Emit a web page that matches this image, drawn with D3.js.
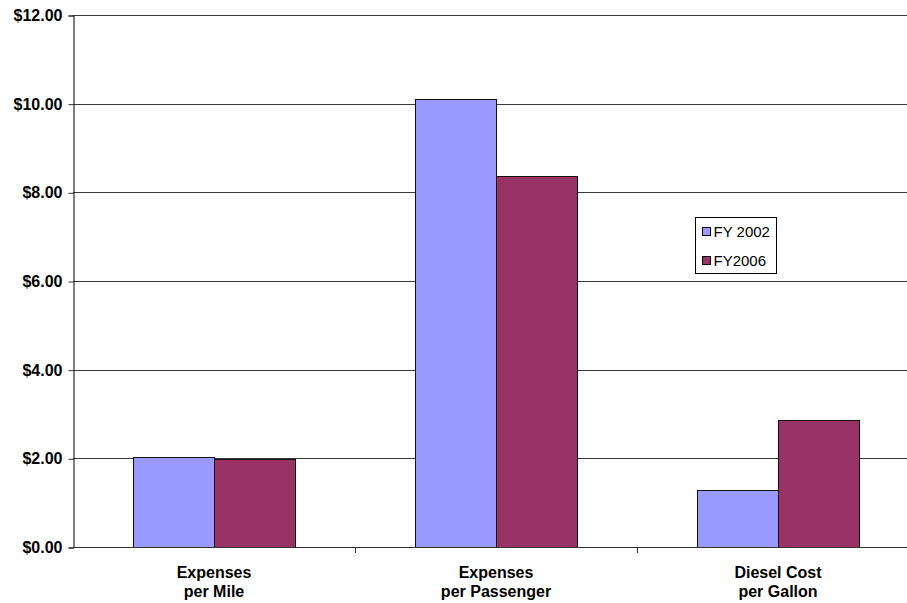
<!DOCTYPE html>
<html>
<head>
<meta charset="utf-8">
<script src="https://cdn.jsdelivr.net/npm/d3@7"></script>
<style>
  html, body { margin: 0; padding: 0; background: #fff; }
  svg { display: block; }
  text { font-family: "Liberation Sans", Arial, sans-serif; }
</style>
</head>
<body>
<svg id="chart" width="907" height="603"></svg>
<script>
// Cost comparison, FY 2002 vs FY2006
const categories = [["Expenses", "per Mile"], ["Expenses", "per Passenger"], ["Diesel Cost", "per Gallon"]];
const seriesNames = ["FY 2002", "FY2006"];
const fy2002 = [2.04, 10.10, 1.29];
const fy2006 = [1.98, 8.37, 2.86];
const yTicks = [0, 2, 4, 6, 8, 10, 12];
const colors = ["#9999FF", "#993366"];

const svg = d3.select("#chart");
const plot = { left: 73, right: 919, top: 15, bottom: 547 };

const x0 = d3.scaleBand()
  .domain(d3.range(categories.length))
  .range([plot.left, plot.right])
  .paddingInner(0).paddingOuter(0);

const barW = 81;
const x1 = d3.scaleBand()
  .domain(seriesNames)
  .range([x0.bandwidth() / 2 - barW, x0.bandwidth() / 2 + barW]);

const y = d3.scaleLinear().domain([0, 12]).range([plot.bottom, plot.top]);

// horizontal gridlines
svg.append("g")
  .selectAll("line")
  .data(yTicks)
  .join("line")
  .attr("x1", plot.left).attr("x2", plot.right)
  .attr("y1", d => Math.round(y(d)) + 0.5).attr("y2", d => Math.round(y(d)) + 0.5)
  .attr("stroke", "#3a3a3a").attr("stroke-width", 1);

// bars
const data = categories.map((c, i) => ({ i, values: [fy2002[i], fy2006[i]] }));
const groups = svg.append("g")
  .selectAll("g")
  .data(data)
  .join("g")
  .attr("transform", d => `translate(${x0(d.i)},0)`);

groups.selectAll("rect")
  .data(d => d.values.map((v, k) => ({ v, k })))
  .join("rect")
  .attr("x", d => x1(seriesNames[d.k]) + 0.5)
  .attr("width", barW)
  .attr("y", d => Math.round(y(d.v)) + 0.5)
  .attr("height", d => Math.round(y(0)) - Math.round(y(d.v)))
  .attr("fill", d => colors[d.k])
  .attr("stroke", "#111")
  .attr("stroke-width", 1);

// y axis
const yAxis = d3.axisLeft(y)
  .tickValues(yTicks)
  .tickSize(5)
  .tickPadding(6)
  .tickFormat(d => "$" + d3.format(".2f")(d));

const ya = svg.append("g")
  .attr("transform", `translate(${plot.left + 0.5},0.5)`)
  .call(yAxis);
ya.select(".domain").attr("stroke", "#000");
ya.selectAll(".tick line").attr("stroke", "#333");
ya.selectAll(".tick text")
  .attr("font-size", 16)
  .attr("font-weight", "bold")
  .attr("fill", "#000")
  .attr("font-family", "'Liberation Sans', Arial, sans-serif");

// x axis
const xAxisLine = svg.append("g");
xAxisLine.append("line")
  .attr("x1", plot.left).attr("x2", plot.right)
  .attr("y1", plot.bottom + 0.5).attr("y2", plot.bottom + 0.5)
  .attr("stroke", "#333");
xAxisLine.selectAll("line.tick")
  .data(d3.range(1, categories.length))
  .join("line")
  .attr("class", "tick")
  .attr("x1", d => x0(d) + 0.5).attr("x2", d => x0(d) + 0.5)
  .attr("y1", plot.bottom).attr("y2", plot.bottom + 6)
  .attr("stroke", "#333");

const labels = svg.append("g")
  .selectAll("text")
  .data(data)
  .join("text")
  .attr("x", d => x0(d.i) + x0.bandwidth() / 2)
  .attr("y", 578)
  .attr("text-anchor", "middle")
  .attr("font-size", 16)
  .attr("font-weight", "bold")
  .attr("fill", "#000");
labels.append("tspan").text(d => categories[d.i][0]);
labels.append("tspan")
  .attr("x", d => x0(d.i) + x0.bandwidth() / 2)
  .attr("dy", 19)
  .text(d => categories[d.i][1]);

// legend
const legend = svg.append("g").attr("transform", "translate(695.5,217.5)");
legend.append("rect")
  .attr("width", 81).attr("height", 56)
  .attr("fill", "#fff").attr("stroke", "#000");
const items = legend.selectAll("g")
  .data(seriesNames)
  .join("g")
  .attr("transform", (d, i) => `translate(7,${10 + i * 29})`);
items.append("rect")
  .attr("width", 8).attr("height", 8)
  .attr("fill", (d, i) => colors[i])
  .attr("stroke", "#000");
items.append("text")
  .attr("x", 11).attr("y", 9)
  .attr("font-size", 15)
  .attr("fill", "#000")
  .text(d => d);
</script>
</body>
</html>
